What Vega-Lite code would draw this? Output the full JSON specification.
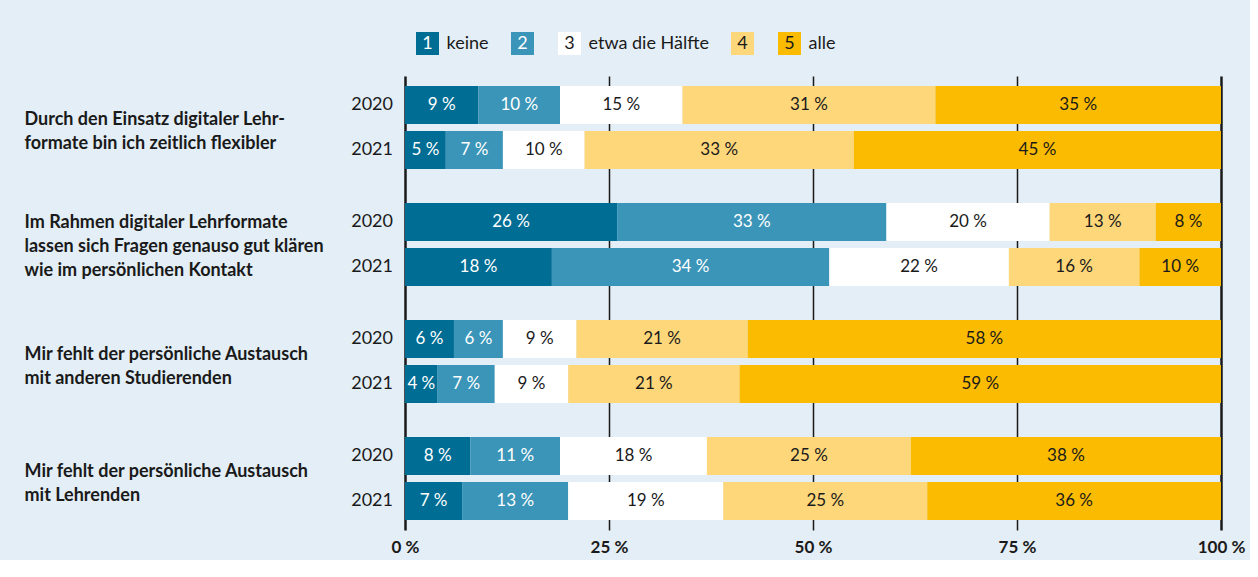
{
  "$schema": "https://vega.github.io/schema/vega-lite/v6.json",
  "background": "#e3eef6",
  "padding": {"left": 24, "top": 32, "right": 5, "bottom": 5},
  "config": {"view": {"stroke": null}, "font": "Lato"},
  "spacing": 21,
  "vconcat": [
    {
      "spacing": 10,
      "hconcat": [
        {"width": 1, "height": 23, "data": {"values": []}, "mark": {"type": "rect"}},
        {
          "spacing": 22,
          "align": "each",
          "hconcat": [
            {"width": 23, "height": 23, "data": {"values": [{"n": "1", "label": "keine"}]},
             "encoding": {"x": {"field": "n", "type": "nominal", "axis": null},
                          "y": {"field": "label", "type": "nominal", "axis": {"orient": "right", "title": null, "ticks": false, "domain": false, "labelPadding": 7, "labelFontSize": 18, "labelColor": "#1a1a1a"}}},
             "layer": [
               {"mark": {"type": "rect"}, "encoding": {"color": {"field": "n", "type": "nominal", "legend": null, "scale": {"domain": ["1","2","3","4","5"], "range": ["#006d94","#3a95b8","#ffffff","#fdd77a","#fbbb00"]}}}},
               {"mark": {"type": "text", "fontSize": 18}, "encoding": {"text": {"field": "n"}, "color": {"condition": {"test": "datum.n == '1' || datum.n == '2'", "value": "white"}, "value": "#1a1a1a"}}}
             ]},
            {"width": 23, "height": 23, "data": {"values": [{"n": "2", "label": " "}]},
             "encoding": {"x": {"field": "n", "type": "nominal", "axis": null},
                          "y": {"field": "label", "type": "nominal", "axis": {"orient": "right", "title": null, "ticks": false, "domain": false, "labelPadding": 2, "labelFontSize": 18, "labelColor": "#1a1a1a"}}},
             "layer": [
               {"mark": {"type": "rect"}, "encoding": {"color": {"field": "n", "type": "nominal", "legend": null}}},
               {"mark": {"type": "text", "fontSize": 18}, "encoding": {"text": {"field": "n"}, "color": {"condition": {"test": "datum.n == '1' || datum.n == '2'", "value": "white"}, "value": "#1a1a1a"}}}
             ]},
            {"width": 23, "height": 23, "data": {"values": [{"n": "3", "label": "etwa die Hälfte"}]},
             "encoding": {"x": {"field": "n", "type": "nominal", "axis": null},
                          "y": {"field": "label", "type": "nominal", "axis": {"orient": "right", "title": null, "ticks": false, "domain": false, "labelPadding": 7, "labelFontSize": 18, "labelColor": "#1a1a1a"}}},
             "layer": [
               {"mark": {"type": "rect"}, "encoding": {"color": {"field": "n", "type": "nominal", "legend": null}}},
               {"mark": {"type": "text", "fontSize": 18}, "encoding": {"text": {"field": "n"}, "color": {"condition": {"test": "datum.n == '1' || datum.n == '2'", "value": "white"}, "value": "#1a1a1a"}}}
             ]},
            {"width": 23, "height": 23, "data": {"values": [{"n": "4", "label": " "}]},
             "encoding": {"x": {"field": "n", "type": "nominal", "axis": null},
                          "y": {"field": "label", "type": "nominal", "axis": {"orient": "right", "title": null, "ticks": false, "domain": false, "labelPadding": 2, "labelFontSize": 18, "labelColor": "#1a1a1a"}}},
             "layer": [
               {"mark": {"type": "rect"}, "encoding": {"color": {"field": "n", "type": "nominal", "legend": null}}},
               {"mark": {"type": "text", "fontSize": 18}, "encoding": {"text": {"field": "n"}, "color": {"condition": {"test": "datum.n == '1' || datum.n == '2'", "value": "white"}, "value": "#1a1a1a"}}}
             ]},
            {"width": 23, "height": 23, "data": {"values": [{"n": "5", "label": "alle"}]},
             "encoding": {"x": {"field": "n", "type": "nominal", "axis": null},
                          "y": {"field": "label", "type": "nominal", "axis": {"orient": "right", "title": null, "ticks": false, "domain": false, "labelPadding": 7, "labelFontSize": 18, "labelColor": "#1a1a1a"}}},
             "layer": [
               {"mark": {"type": "rect"}, "encoding": {"color": {"field": "n", "type": "nominal", "legend": null}}},
               {"mark": {"type": "text", "fontSize": 18}, "encoding": {"text": {"field": "n"}, "color": {"condition": {"test": "datum.n == '1' || datum.n == '2'", "value": "white"}, "value": "#1a1a1a"}}}
             ]}
          ]
        }
      ]
    },
    {
      "width": 816,
      "height": 454,
      "data": {"values": [
        {"Frage": "Durch den Einsatz digitaler Lehr-|formate bin ich zeitlich flexibler", "Jahr": "2020", "k": "1", "Anteil": 9},
        {"Frage": "Durch den Einsatz digitaler Lehr-|formate bin ich zeitlich flexibler", "Jahr": "2020", "k": "2", "Anteil": 10},
        {"Frage": "Durch den Einsatz digitaler Lehr-|formate bin ich zeitlich flexibler", "Jahr": "2020", "k": "3", "Anteil": 15},
        {"Frage": "Durch den Einsatz digitaler Lehr-|formate bin ich zeitlich flexibler", "Jahr": "2020", "k": "4", "Anteil": 31},
        {"Frage": "Durch den Einsatz digitaler Lehr-|formate bin ich zeitlich flexibler", "Jahr": "2020", "k": "5", "Anteil": 35},
        {"Frage": "Durch den Einsatz digitaler Lehr-|formate bin ich zeitlich flexibler", "Jahr": "2021", "k": "1", "Anteil": 5},
        {"Frage": "Durch den Einsatz digitaler Lehr-|formate bin ich zeitlich flexibler", "Jahr": "2021", "k": "2", "Anteil": 7},
        {"Frage": "Durch den Einsatz digitaler Lehr-|formate bin ich zeitlich flexibler", "Jahr": "2021", "k": "3", "Anteil": 10},
        {"Frage": "Durch den Einsatz digitaler Lehr-|formate bin ich zeitlich flexibler", "Jahr": "2021", "k": "4", "Anteil": 33},
        {"Frage": "Durch den Einsatz digitaler Lehr-|formate bin ich zeitlich flexibler", "Jahr": "2021", "k": "5", "Anteil": 45},
        {"Frage": "Im Rahmen digitaler Lehrformate|lassen sich Fragen genauso gut klären|wie im persönlichen Kontakt", "Jahr": "2020", "k": "1", "Anteil": 26},
        {"Frage": "Im Rahmen digitaler Lehrformate|lassen sich Fragen genauso gut klären|wie im persönlichen Kontakt", "Jahr": "2020", "k": "2", "Anteil": 33},
        {"Frage": "Im Rahmen digitaler Lehrformate|lassen sich Fragen genauso gut klären|wie im persönlichen Kontakt", "Jahr": "2020", "k": "3", "Anteil": 20},
        {"Frage": "Im Rahmen digitaler Lehrformate|lassen sich Fragen genauso gut klären|wie im persönlichen Kontakt", "Jahr": "2020", "k": "4", "Anteil": 13},
        {"Frage": "Im Rahmen digitaler Lehrformate|lassen sich Fragen genauso gut klären|wie im persönlichen Kontakt", "Jahr": "2020", "k": "5", "Anteil": 8},
        {"Frage": "Im Rahmen digitaler Lehrformate|lassen sich Fragen genauso gut klären|wie im persönlichen Kontakt", "Jahr": "2021", "k": "1", "Anteil": 18},
        {"Frage": "Im Rahmen digitaler Lehrformate|lassen sich Fragen genauso gut klären|wie im persönlichen Kontakt", "Jahr": "2021", "k": "2", "Anteil": 34},
        {"Frage": "Im Rahmen digitaler Lehrformate|lassen sich Fragen genauso gut klären|wie im persönlichen Kontakt", "Jahr": "2021", "k": "3", "Anteil": 22},
        {"Frage": "Im Rahmen digitaler Lehrformate|lassen sich Fragen genauso gut klären|wie im persönlichen Kontakt", "Jahr": "2021", "k": "4", "Anteil": 16},
        {"Frage": "Im Rahmen digitaler Lehrformate|lassen sich Fragen genauso gut klären|wie im persönlichen Kontakt", "Jahr": "2021", "k": "5", "Anteil": 10},
        {"Frage": "Mir fehlt der persönliche Austausch|mit anderen Studierenden", "Jahr": "2020", "k": "1", "Anteil": 6},
        {"Frage": "Mir fehlt der persönliche Austausch|mit anderen Studierenden", "Jahr": "2020", "k": "2", "Anteil": 6},
        {"Frage": "Mir fehlt der persönliche Austausch|mit anderen Studierenden", "Jahr": "2020", "k": "3", "Anteil": 9},
        {"Frage": "Mir fehlt der persönliche Austausch|mit anderen Studierenden", "Jahr": "2020", "k": "4", "Anteil": 21},
        {"Frage": "Mir fehlt der persönliche Austausch|mit anderen Studierenden", "Jahr": "2020", "k": "5", "Anteil": 58},
        {"Frage": "Mir fehlt der persönliche Austausch|mit anderen Studierenden", "Jahr": "2021", "k": "1", "Anteil": 4},
        {"Frage": "Mir fehlt der persönliche Austausch|mit anderen Studierenden", "Jahr": "2021", "k": "2", "Anteil": 7},
        {"Frage": "Mir fehlt der persönliche Austausch|mit anderen Studierenden", "Jahr": "2021", "k": "3", "Anteil": 9},
        {"Frage": "Mir fehlt der persönliche Austausch|mit anderen Studierenden", "Jahr": "2021", "k": "4", "Anteil": 21},
        {"Frage": "Mir fehlt der persönliche Austausch|mit anderen Studierenden", "Jahr": "2021", "k": "5", "Anteil": 59},
        {"Frage": "Mir fehlt der persönliche Austausch|mit Lehrenden", "Jahr": "2020", "k": "1", "Anteil": 8},
        {"Frage": "Mir fehlt der persönliche Austausch|mit Lehrenden", "Jahr": "2020", "k": "2", "Anteil": 11},
        {"Frage": "Mir fehlt der persönliche Austausch|mit Lehrenden", "Jahr": "2020", "k": "3", "Anteil": 18},
        {"Frage": "Mir fehlt der persönliche Austausch|mit Lehrenden", "Jahr": "2020", "k": "4", "Anteil": 25},
        {"Frage": "Mir fehlt der persönliche Austausch|mit Lehrenden", "Jahr": "2020", "k": "5", "Anteil": 38},
        {"Frage": "Mir fehlt der persönliche Austausch|mit Lehrenden", "Jahr": "2021", "k": "1", "Anteil": 7},
        {"Frage": "Mir fehlt der persönliche Austausch|mit Lehrenden", "Jahr": "2021", "k": "2", "Anteil": 13},
        {"Frage": "Mir fehlt der persönliche Austausch|mit Lehrenden", "Jahr": "2021", "k": "3", "Anteil": 19},
        {"Frage": "Mir fehlt der persönliche Austausch|mit Lehrenden", "Jahr": "2021", "k": "4", "Anteil": 25},
        {"Frage": "Mir fehlt der persönliche Austausch|mit Lehrenden", "Jahr": "2021", "k": "5", "Anteil": 36}
      ]},
      "transform": [
        {"stack": "Anteil", "groupby": ["Frage", "Jahr"], "sort": [{"field": "k", "order": "ascending"}], "as": ["x0", "x1"]},
        {"calculate": "(datum.x0 + datum.x1) / 2", "as": "xm"},
        {"calculate": "datum.Anteil + ' %'", "as": "lab"}
      ],
      "encoding": {
        "y": {"field": "Frage", "type": "nominal", "title": null,
              "sort": ["Durch den Einsatz digitaler Lehr-|formate bin ich zeitlich flexibler", "Im Rahmen digitaler Lehrformate|lassen sich Fragen genauso gut klären|wie im persönlichen Kontakt", "Mir fehlt der persönliche Austausch|mit anderen Studierenden", "Mir fehlt der persönliche Austausch|mit Lehrenden"],
              "scale": {"paddingInner": 0.1197, "paddingOuter": 0},
              "axis": {"orient": "left", "ticks": false, "domain": false, "grid": false, "labelAlign": "left", "labelBaseline": "middle", "labelPadding": 381, "labelLimit": 500, "labelFont": "Lato", "labelFontSize": 18, "labelFontWeight": "bold", "labelColor": "#1a1a1a", "labelLineHeight": 24, "labelExpr": "split(datum.value, '|')",
                       "labelOffset": {"condition": {"test": "indexof(datum.value, 'Kontakt') >= 0", "value": -21}, "value": -7}}},
        "yOffset": {"field": "Jahr", "type": "nominal", "scale": {"paddingInner": 0.1556, "paddingOuter": 0.2222}}
      },
      "layer": [
        {"mark": {"type": "bar"},
         "encoding": {
           "x": {"field": "x0", "type": "quantitative", "scale": {"domain": [0, 100], "nice": false},
                 "axis": {"title": null, "values": [0, 25, 50, 75, 100], "labelExpr": "datum.value + ' %'", "labelFlush": false, "labelFontWeight": "bold", "labelFontSize": 17, "labelFont": "Lato", "labelColor": "#1a1a1a", "labelPadding": 9, "ticks": false, "domain": false, "grid": true, "gridColor": "#1a1a1a", "gridOpacity": 1,
                          "gridWidth": {"condition": {"test": "datum.value == 0 || datum.value == 100", "value": 2.5}, "value": 1.5}}},
           "x2": {"field": "x1"},
           "color": {"field": "k", "type": "nominal", "legend": null, "scale": {"domain": ["1","2","3","4","5"], "range": ["#006d94","#3a95b8","#ffffff","#fdd77a","#fbbb00"]}}
         }},
        {"mark": {"type": "text", "fontSize": 17, "font": "Lato"},
         "encoding": {
           "x": {"field": "xm", "type": "quantitative"},
           "text": {"field": "lab"},
           "color": {"condition": {"test": "datum.k == '1' || datum.k == '2'", "value": "white"}, "value": "#1a1a1a"}
         }},
        {"transform": [{"filter": "datum.k == '1'"}],
         "mark": {"type": "text", "fontSize": 18, "font": "Lato", "align": "right", "dx": -12},
         "encoding": {
           "x": {"datum": 0},
           "text": {"field": "Jahr"},
           "color": {"value": "#1a1a1a"}
         }}
      ]
    }
  ]
}
